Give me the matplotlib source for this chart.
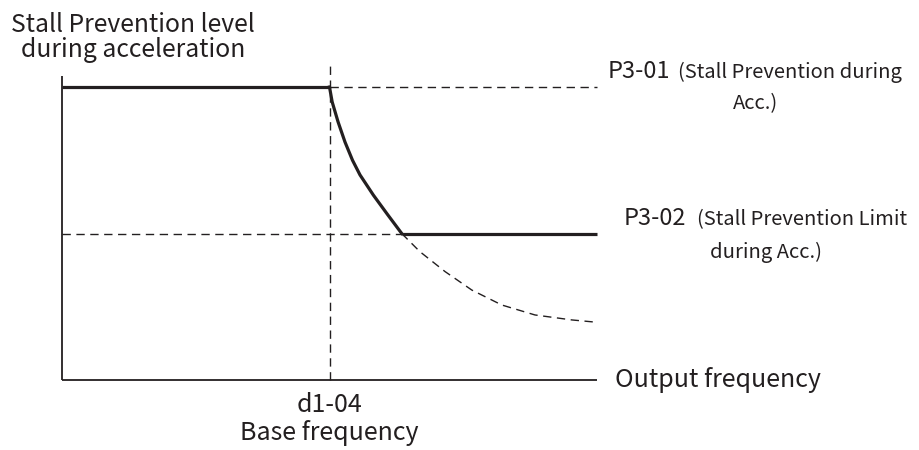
import numpy as np
import matplotlib.pyplot as plt

plt.rcParams['font.family'] = ['Noto Sans CJK TC', 'DejaVu Sans']

# output frequency (% of axis length) and stall prevention level (%)
base_freq = 50.0
f_max = 100.0
p3_01 = 100.0   # stall prevention during acc.
p3_02 = 50.0    # stall prevention limit during acc.

# level decaying above base frequency
curve_f = [50.0, 50.5, 51.6, 52.9, 54.3, 55.7, 58.2, 60.8, 63.5]
curve_lv = [100.0, 94.9, 88.1, 81.2, 75.0, 70.0, 63.1, 56.6, 50.0]
# continuation of the decay below the limit
tail_f = [63.5, 66.9, 71.6, 76.6, 82.2, 88.4, 95.3, 100.0]
tail_lv = [50.0, 43.8, 37.0, 30.7, 25.6, 22.2, 20.5, 19.7]

ink = '#231f20'
dash = (6, 4)

fig = plt.figure(figsize=(9.19, 4.5), dpi=100)
ax = fig.add_axes([62 / 919, 70 / 450, 535 / 919, 293 / 450])
ax.set_xlim(0, f_max)
ax.set_ylim(0, 100)
ax.axis('off')

# axes lines
ax.plot([0, 0], [0, 103.8], color=ink, lw=1.3, clip_on=False, solid_capstyle='butt')
ax.plot([0, f_max], [0, 0], color=ink, lw=1.3, clip_on=False, solid_capstyle='butt')

# dashed guides
ax.plot([base_freq, base_freq], [0, 108.5], color=ink, lw=1.0, dashes=dash, clip_on=False)
ax.plot([base_freq, f_max], [p3_01, p3_01], color=ink, lw=1.0, dashes=dash, clip_on=False)
ax.plot([0, curve_f[-1]], [p3_02, p3_02], color=ink, lw=1.0, dashes=dash, clip_on=False)
ax.plot(tail_f, tail_lv, color=ink, lw=1.0, dashes=dash, clip_on=False)

# stall prevention level
ax.plot([0, base_freq], [p3_01, p3_01], color=ink, lw=2.3, clip_on=False, solid_capstyle='butt')
ax.plot(curve_f, curve_lv, color=ink, lw=2.3, clip_on=False, solid_joinstyle='round')
ax.plot([curve_f[-1], f_max], [p3_02, p3_02], color=ink, lw=2.3, clip_on=False, solid_capstyle='butt')

# labels
txt = dict(color=ink, fontweight='light')
ax.text(13.3, 118.8, 'Stall Prevention level', ha='center', va='baseline', fontsize=17.8, **txt)
ax.text(13.3, 110.2, 'during acceleration', ha='center', va='baseline', fontsize=17.8, **txt)

ax.text(101.9, 103.0, 'P3-01', ha='left', va='baseline', fontsize=17, **txt)
ax.text(115.1, 103.0, '(Stall Prevention during', ha='left', va='baseline', fontsize=14.5, **txt)
ax.text(129.6, 92.6, 'Acc.)', ha='center', va='baseline', fontsize=14.5, **txt)

ax.text(104.9, 52.9, 'P3-02', ha='left', va='baseline', fontsize=17, **txt)
ax.text(118.7, 52.9, '(Stall Prevention Limit', ha='left', va='baseline', fontsize=14.5, **txt)
ax.text(131.5, 41.6, 'during Acc.)', ha='center', va='baseline', fontsize=14.5, **txt)

ax.text(103.4, 0, 'Output frequency', ha='left', va='center', fontsize=18, **txt)

ax.text(base_freq, -10.9, 'd1-04', ha='center', va='baseline', fontsize=18, **txt)
ax.text(base_freq, -20.5, 'Base frequency', ha='center', va='baseline', fontsize=18, **txt)

fig.savefig('out.png', dpi=100)
